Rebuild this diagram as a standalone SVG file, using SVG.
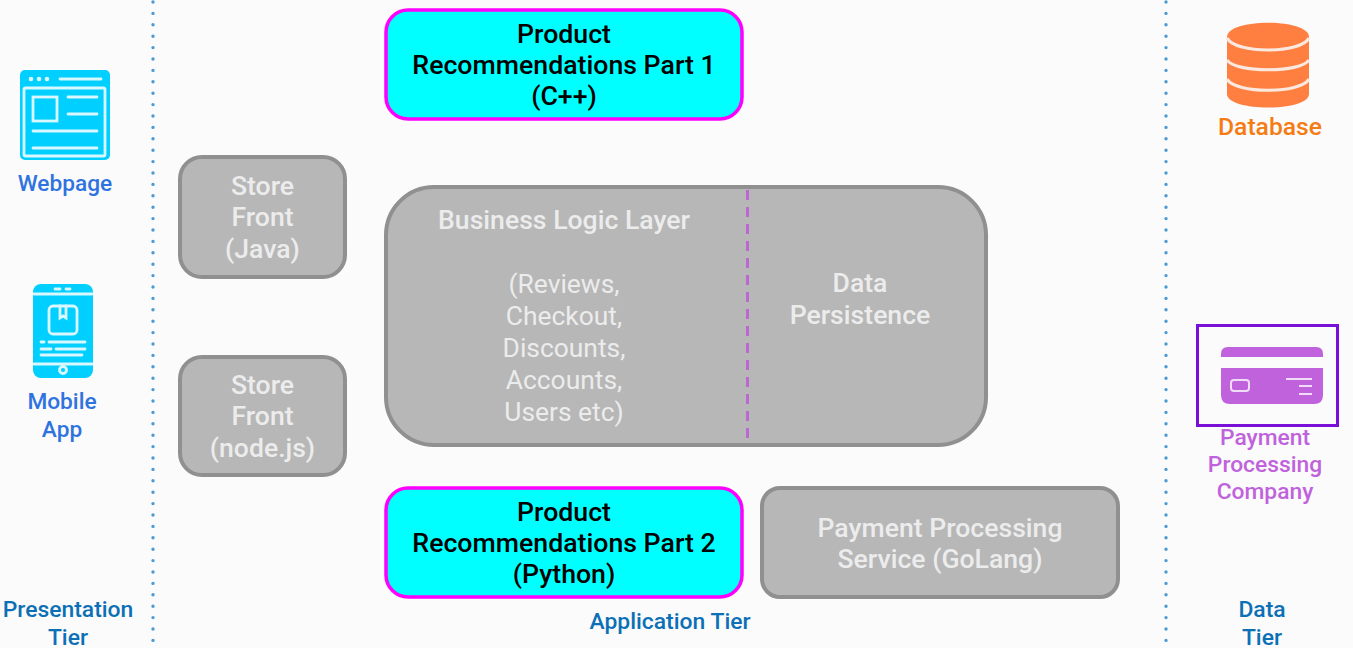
<svg xmlns="http://www.w3.org/2000/svg" width="1353" height="648" viewBox="0 0 1353 648">
<style>
text{font-family:Roboto,"Liberation Sans",sans-serif;font-weight:500;text-anchor:middle}
.box{fill:#b7b7b7;stroke:#909090;stroke-width:4}
.rec{fill:#00ffff;stroke:#ff00ff;stroke-width:3.500}
.w{fill:#ececec;font-size:26.600px}
.wl{fill:#ececec;font-size:26.400px;font-weight:400}
.k{fill:#000;font-size:26.700px}
.tier{fill:#0b70b5;font-size:22.900px}
.dot{fill:none;stroke:#4a9ad4;stroke-width:3.400;stroke-linecap:round;stroke-dasharray:0 11.400}
.ic{fill:#00cfff}
.icl{fill:none;stroke:#d8f7ff;stroke-width:2.800;stroke-linecap:round}
.blue{fill:#2f73e0;font-size:22.700px}
.pur{fill:#c062dc;font-size:22.800px}
.gap{fill:none;stroke:#fbe9df;stroke-width:3.200}
</style>
<rect width="1353" height="648" fill="#fbfbfb"/>
<g id="webpage">
<rect class="ic" x="20" y="70" width="90" height="90" rx="5"/>
<rect class="icl" x="24" y="88" width="81" height="68" rx="1.500"/>
<circle cx="31" cy="79" r="2.300" fill="#d8f7ff"/><circle cx="39" cy="79" r="2.300" fill="#d8f7ff"/><circle cx="47" cy="79" r="2.300" fill="#d8f7ff"/>
<path class="icl" d="M60 79H101M68 97H97M68 114H97M33 131H97M33 148H97"/>
<rect class="icl" x="33" y="97" width="24" height="24"/>
<text class="blue" x="65" y="191">Webpage</text>
</g>
<g id="mobile-app">
<rect class="ic" x="33" y="284" width="60" height="94" rx="8"/>
<path class="icl" d="M34 294H92M34 364H92M55 289H60M66 289H70M41 342H44M49 342H85M41 349H51M56 349H85M41 355H82"/>
<rect class="icl" x="49" y="306" width="28" height="28" rx="4"/>
<path class="icl" d="M60 306V318L63 316L66 318V306"/>
<circle class="icl" cx="63" cy="370" r="3.500"/>
<text class="blue" x="62" y="409">Mobile</text>
<text class="blue" x="62" y="437">App</text>
</g>
<g id="store-front-java">
<rect class="box" x="180" y="157" width="165" height="120" rx="22"/>
<text class="w" x="262.500" y="195">Store</text><text class="w" x="262.500" y="226">Front</text><text class="w" x="262.500" y="258">(Java)</text>
</g>
<g id="store-front-node">
<rect class="box" x="180" y="357" width="165" height="118" rx="22"/>
<text class="w" x="262.500" y="394">Store</text><text class="w" x="262.500" y="425">Front</text><text class="w" x="262.500" y="457">(node.js)</text>
</g>
<g id="recommendations-1">
<rect class="rec" x="386" y="10" width="356" height="109" rx="22"/>
<text class="k" x="564" y="43">Product</text><text class="k" x="564" y="74">Recommendations Part 1</text><text class="k" x="564" y="105">(C++)</text>
</g>
<g id="business-logic">
<rect class="box" x="386" y="187" width="600" height="258" rx="48"/>
<text class="w" x="564" y="229">Business Logic Layer</text>
<text class="wl" x="564" y="293">(Reviews,</text><text class="wl" x="564" y="325">Checkout,</text><text class="wl" x="564" y="357">Discounts,</text><text class="wl" x="564" y="389">Accounts,</text><text class="wl" x="564" y="421">Users etc)</text>
<text class="w" x="860" y="292">Data</text><text class="w" x="860" y="324">Persistence</text>
</g>
<g id="recommendations-2">
<rect class="rec" x="386" y="488" width="356" height="109" rx="22"/>
<text class="k" x="564" y="521">Product</text><text class="k" x="564" y="552">Recommendations Part 2</text><text class="k" x="564" y="583">(Python)</text>
</g>
<g id="payment-service">
<rect class="box" x="762" y="488" width="356" height="109" rx="18"/>
<text class="w" x="940" y="537">Payment Processing</text><text class="w" x="940" y="568">Service (GoLang)</text>
</g>
<g id="database">
<path d="M1227 37C1227 18 1309 18 1309 37V94C1309 112 1227 112 1227 94Z" fill="#ff7f41"/>
<path class="gap" d="M1227 38C1235 54 1301 54 1309 38M1227 60C1235 73 1301 73 1309 60M1227 79C1235 94 1301 94 1309 79"/>
<text x="1270" y="135" fill="#f57c14" font-size="24.700">Database</text>
</g>
<g id="payment-company">
<rect x="1197.500" y="325.500" width="140" height="100" fill="none" stroke="#7a10d8" stroke-width="3"/>
<path d="M1221 357V354Q1221 347 1228 347H1316Q1323 347 1323 354V357Z" fill="#c062dc"/>
<path d="M1221 368H1323V395Q1323 404 1314 404H1230Q1221 404 1221 395Z" fill="#c062dc"/>
<rect x="1231" y="380" width="18" height="11" rx="3" fill="none" stroke="#f0dcf6" stroke-width="2"/>
<path d="M1286 379H1312M1299 386H1312M1299 394H1312" fill="none" stroke="#f0dcf6" stroke-width="2"/>
<text class="pur" x="1265" y="445">Payment</text><text class="pur" x="1265" y="472">Processing</text><text class="pur" x="1265" y="499">Company</text>
</g>
<g id="tier-labels">
<text class="tier" x="68" y="617">Presentation</text><text class="tier" x="68" y="645">Tier</text>
<text class="tier" x="670" y="629">Application Tier</text>
<text class="tier" x="1262" y="617">Data</text><text class="tier" x="1262" y="645">Tier</text>
</g>
<g id="connectors">
<path class="dot" d="M153 2V648"/>
<path class="dot" d="M1166 2V648"/>
<path d="M747.500 190V440" fill="none" stroke="#bd68d2" stroke-width="3" stroke-dasharray="10 7"/>
</g>
</svg>
